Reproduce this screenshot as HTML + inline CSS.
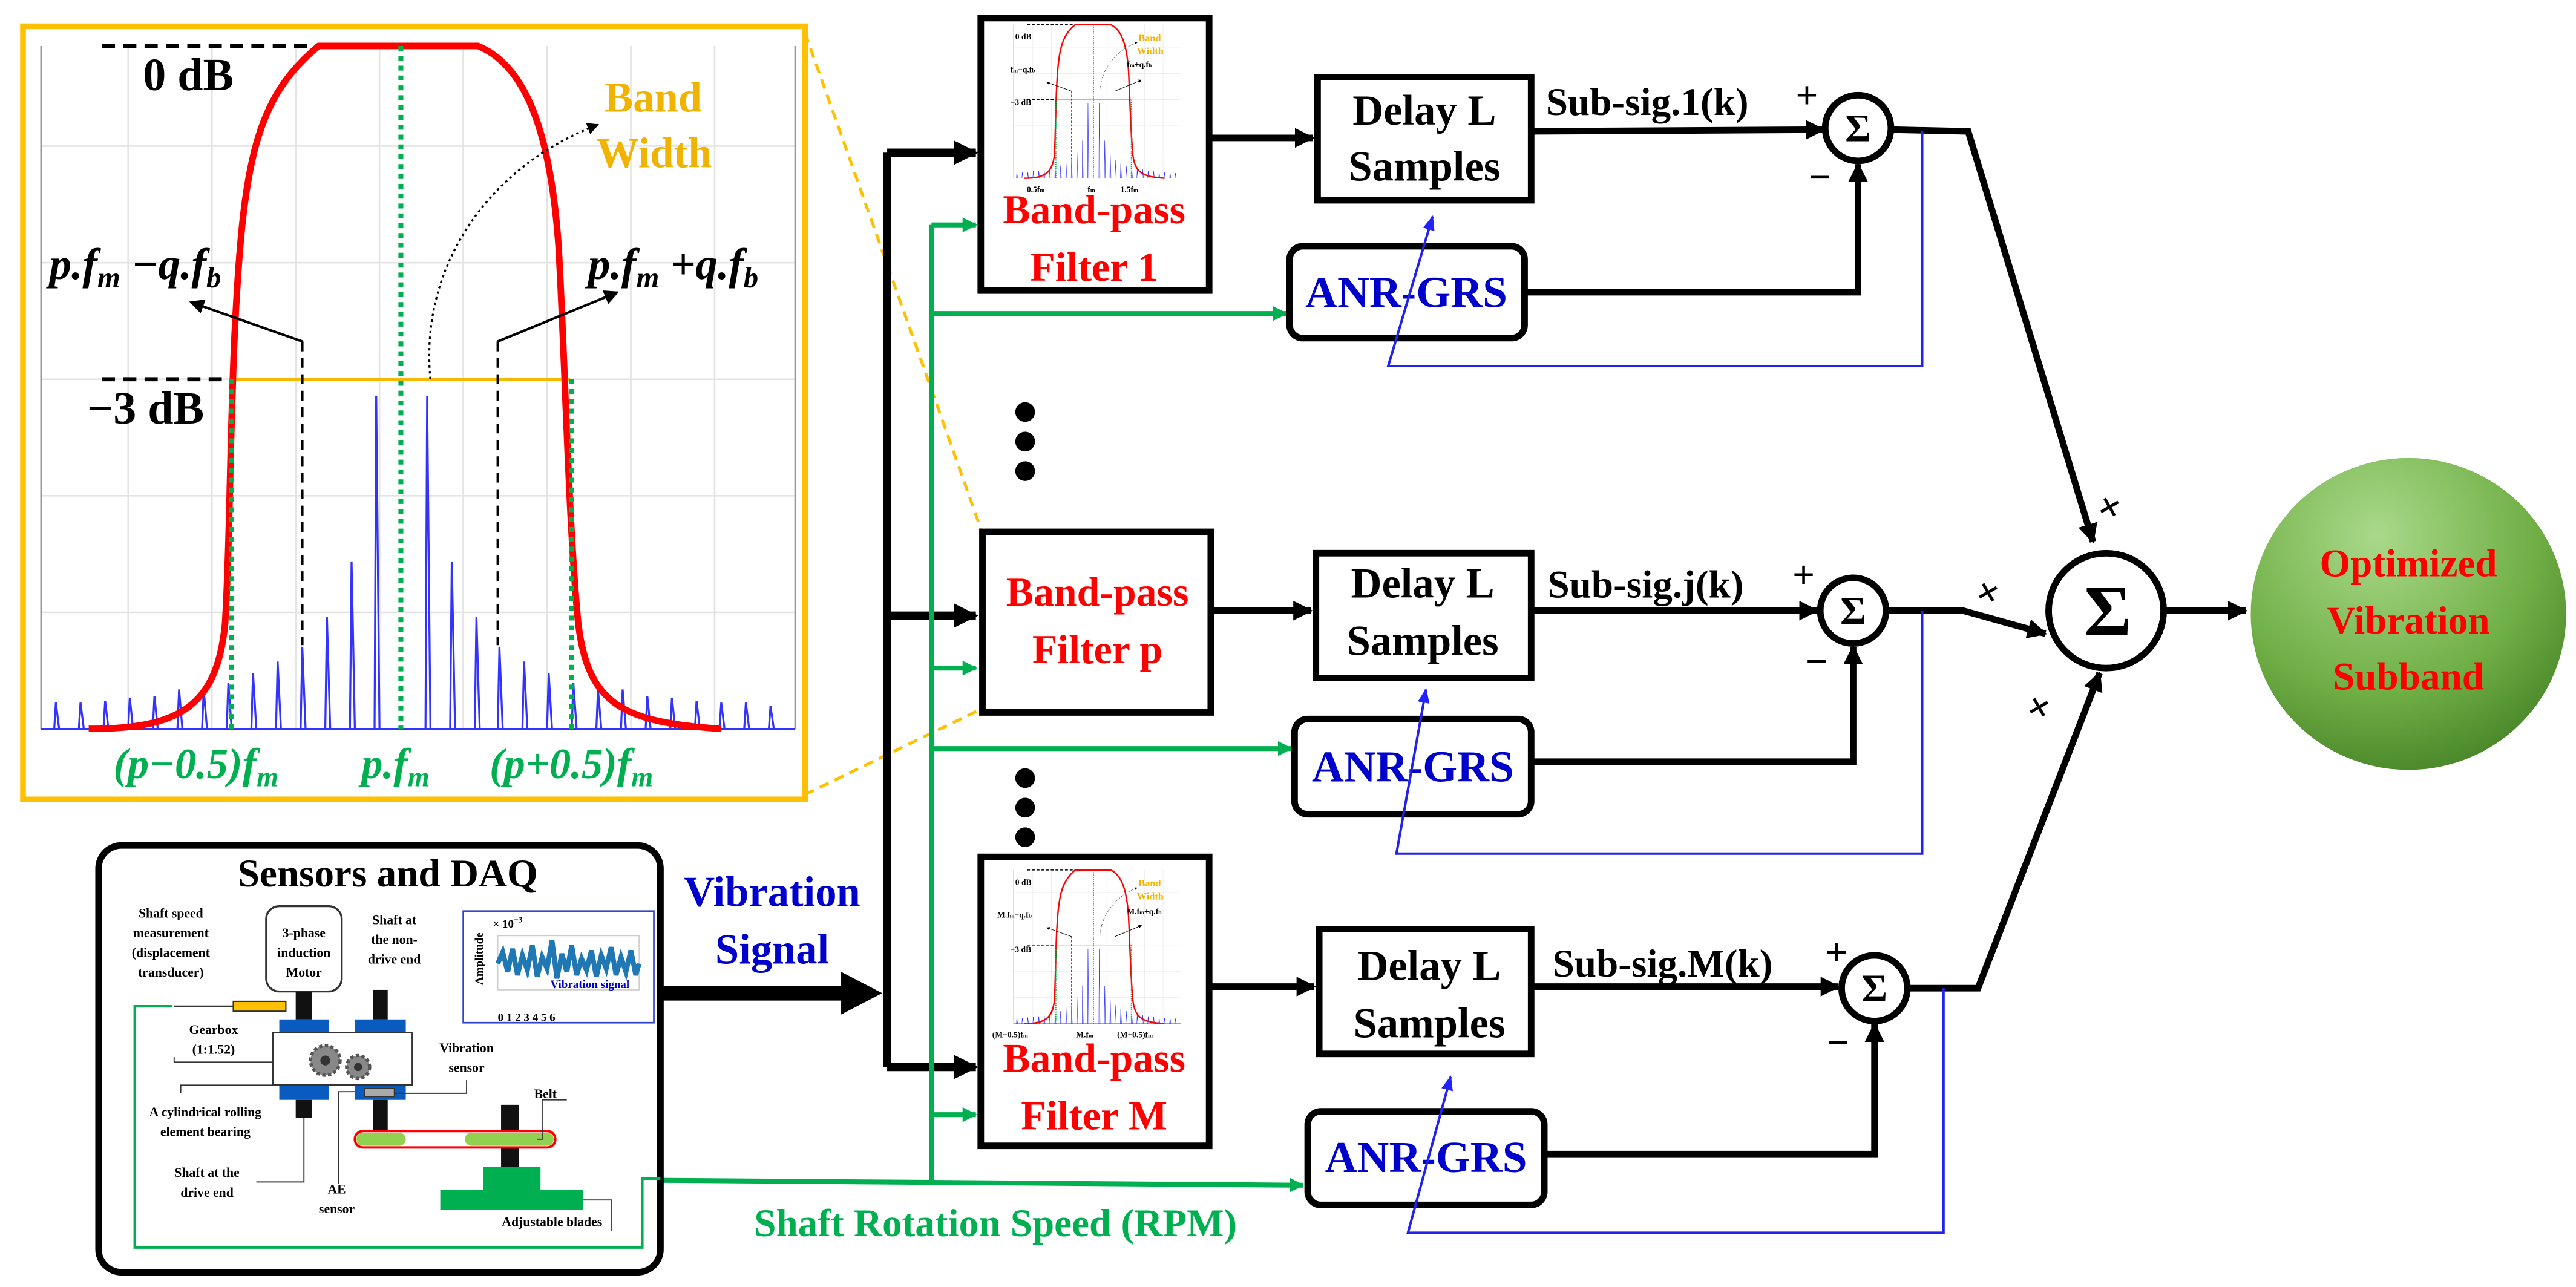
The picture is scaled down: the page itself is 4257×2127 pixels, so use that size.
<!DOCTYPE html>
<html><head><meta charset="utf-8"><style>
html,body{margin:0;padding:0;background:#fff;}
svg{display:block;}
text{font-family:"Liberation Serif",serif;font-weight:bold;}
</style></head><body>
<svg width="4257" height="2127" viewBox="0 0 1568 784" preserveAspectRatio="none" xmlns="http://www.w3.org/2000/svg">
<defs>
<marker id="ab" viewBox="0 0 10 10" refX="9" refY="5" markerWidth="3" markerHeight="3" orient="auto"><path d="M0,0L10,5L0,10z" fill="#000"/></marker>
<marker id="ag" viewBox="0 0 10 10" refX="9" refY="5" markerWidth="3" markerHeight="3" orient="auto"><path d="M0,0L10,5L0,10z" fill="#00b050"/></marker>
<marker id="as" viewBox="0 0 10 10" refX="9" refY="5" markerWidth="6" markerHeight="6" orient="auto"><path d="M0,0L10,5L0,10z" fill="#000"/></marker>
<marker id="al" viewBox="0 0 10 10" refX="9" refY="5" markerWidth="6" markerHeight="6" orient="auto"><path d="M0,1L10,5L0,9z" fill="#22f"/></marker>
<radialGradient id="eg" cx="0.4" cy="0.25" r="0.85"><stop offset="0" stop-color="#a9d98a"/><stop offset="0.6" stop-color="#6fae45"/><stop offset="1" stop-color="#3f7d22"/></radialGradient>
<g id="plot">
 <g stroke="#e4e4e4" stroke-width="1">
  <line x1="25" y1="89" x2="484" y2="89"/><line x1="25" y1="160" x2="484" y2="160"/><line x1="25" y1="302" x2="484" y2="302"/><line x1="25" y1="373" x2="484" y2="373"/><line x1="25" y1="231" x2="484" y2="231"/>
  <line x1="78" y1="28" x2="78" y2="444"/><line x1="129" y1="28" x2="129" y2="444"/><line x1="180" y1="28" x2="180" y2="444"/><line x1="231" y1="28" x2="231" y2="444"/><line x1="282" y1="28" x2="282" y2="444"/><line x1="333" y1="28" x2="333" y2="444"/><line x1="384" y1="28" x2="384" y2="444"/><line x1="435" y1="28" x2="435" y2="444"/>
 </g>
 <line x1="25" y1="28" x2="25" y2="444" stroke="#999" stroke-width="1"/>
 <line x1="484" y1="28" x2="484" y2="444" stroke="#999" stroke-width="1"/>
 <path stroke="#33f" stroke-width="1.2" fill="none" d="M25,444H484 M33,444L34,428L36,444 M48,444L49,428L51,444 M63,444L64,427L66,444 M78,444L79,425L81,444 M93,444L94,424L96,444 M108,444L109,420L111,444 M123,444L124,420L126,444 M138,444L139,416L141,444 M153,444L154,410L156,444 M168,444L169,403L171,444 M183,444L184,394L186,444 M198,444L199,376L201,444 M213,444L214,342L216,444 M228,444L229,241L231,444 M259,444L260,241L262,444 M274,444L275,342L277,444 M289,444L290,376L292,444 M303,444L304,394L306,444 M318,444L319,403L321,444 M333,444L334,410L336,444 M348,444L349,416L351,444 M363,444L364,420L366,444 M378,444L379,420L381,444 M393,444L394,424L396,444 M408,444L409,425L411,444 M423,444L424,427L426,444 M438,444L439,428L441,444 M453,444L454,428L456,444 M468,444L469,430L471,444"/>
 <line x1="62" y1="28" x2="194" y2="28" stroke="#000" stroke-width="2.5" stroke-dasharray="8,5"/>
 <line x1="62" y1="231" x2="141" y2="231" stroke="#000" stroke-width="2.5" stroke-dasharray="8,5"/>
 <line x1="141" y1="231" x2="347" y2="231" stroke="#f5b800" stroke-width="2"/>
 <path d="M54,444 C110,444 132,430 137,380 C140,330 140,260 143,200 C148,100 155,60 194,28 L291,28 C320,40 335,80 340,150 C344,220 346,320 352,380 C358,430 380,440 439,444" stroke="#f00" stroke-width="4" fill="none"/>
 <g stroke="#00b050" stroke-width="3" stroke-dasharray="3,3">
  <line x1="141" y1="231" x2="141" y2="444"/><line x1="244" y1="28" x2="244" y2="444"/><line x1="348" y1="231" x2="348" y2="444"/>
 </g>
 <g stroke="#000" stroke-width="1.5" stroke-dasharray="6,4" fill="none">
  <line x1="184" y1="208" x2="184" y2="393"/><line x1="303" y1="208" x2="303" y2="393"/>
 </g>
 <line x1="184" y1="208" x2="116" y2="184" stroke="#000" stroke-width="1.5" marker-end="url(#as)"/>
 <line x1="303" y1="208" x2="376" y2="178" stroke="#000" stroke-width="1.5" marker-end="url(#as)"/>
 <path d="M262,231 C255,160 300,100 364,76" stroke="#000" stroke-width="1.2" stroke-dasharray="1.5,2" fill="none" marker-end="url(#as)"/>
</g>
</defs>

<rect x="14" y="16" width="476" height="471" fill="#fff" stroke="#ffc000" stroke-width="3.5"/>
<use href="#plot"/>
<text x="87" y="55" font-size="28" fill="#000">0 dB</text>
<text x="53" y="258" font-size="28" fill="#000">−3 dB</text>
<text x="368" y="68" font-size="26" fill="#f0b400">Band</text>
<text x="363" y="102" font-size="26" fill="#f0b400">Width</text>
<text x="30" y="170" font-size="27" font-style="italic" fill="#000">p.f<tspan font-size="18" dy="5">m</tspan><tspan dy="-5"> −q.f</tspan><tspan font-size="18" dy="5">b</tspan></text>
<text x="358" y="170" font-size="27" font-style="italic" fill="#000">p.f<tspan font-size="18" dy="5">m</tspan><tspan dy="-5"> +q.f</tspan><tspan font-size="18" dy="5">b</tspan></text>
<text x="69" y="474" font-size="26" font-style="italic" fill="#00b050">(p−0.5)f<tspan font-size="17" dy="5">m</tspan></text>
<text x="220" y="474" font-size="26" font-style="italic" fill="#00b050">p.f<tspan font-size="17" dy="5">m</tspan></text>
<text x="298" y="474" font-size="26" font-style="italic" fill="#00b050">(p+0.5)f<tspan font-size="17" dy="5">m</tspan></text>
<g stroke="#ffc000" stroke-width="1.8" stroke-dasharray="6,4">
 <line x1="490" y1="20" x2="597" y2="322"/><line x1="490" y1="484" x2="597" y2="432"/>
</g>

<line x1="540" y1="93" x2="540" y2="650" stroke="#000" stroke-width="5"/>
<line x1="540" y1="93" x2="594" y2="93" stroke="#000" stroke-width="5" marker-end="url(#ab)"/>
<line x1="540" y1="375" x2="594" y2="375" stroke="#000" stroke-width="5" marker-end="url(#ab)"/>
<line x1="540" y1="650" x2="594" y2="650" stroke="#000" stroke-width="5" marker-end="url(#ab)"/>
<line x1="567" y1="137" x2="567" y2="720" stroke="#00b050" stroke-width="3"/>
<g stroke="#00b050" stroke-width="3" marker-end="url(#ag)">
 <line x1="567" y1="137" x2="594" y2="137"/><line x1="567" y1="407" x2="594" y2="407"/><line x1="567" y1="679" x2="594" y2="679"/>
 <line x1="567" y1="191" x2="783" y2="191"/><line x1="567" y1="456" x2="786" y2="456"/>
 <line x1="400" y1="719" x2="793" y2="722"/>
</g>

<rect x="597" y="11" width="139" height="166" fill="#fff" stroke="#000" stroke-width="4"/>
<use href="#plot" transform="translate(611.4,8.7) scale(0.222,0.225)"/>
<g font-size="5" fill="#000"><text x="618" y="24">0 dB</text><text x="615" y="44">f<tspan font-size="3.5">m</tspan>−q.f<tspan font-size="3.5">b</tspan></text><text x="615" y="64">−3 dB</text><text x="686" y="41">f<tspan font-size="3.5">m</tspan>+q.f<tspan font-size="3.5">b</tspan></text><text x="625" y="117">0.5f<tspan font-size="3.5">m</tspan></text><text x="662" y="117">f<tspan font-size="3.5">m</tspan></text><text x="682" y="117">1.5f<tspan font-size="3.5">m</tspan></text></g>
<g font-size="6" fill="#f0b400"><text x="693" y="25">Band</text><text x="692" y="33">Width</text></g>
<text x="666" y="136" font-size="25" fill="#f00" text-anchor="middle">Band-pass</text>
<text x="666" y="171" font-size="25" fill="#f00" text-anchor="middle">Filter 1</text>

<rect x="598" y="324" width="139" height="110" fill="#fff" stroke="#000" stroke-width="4"/>
<text x="668" y="369" font-size="25" fill="#f00" text-anchor="middle">Band-pass</text>
<text x="668" y="404" font-size="25" fill="#f00" text-anchor="middle">Filter p</text>

<rect x="597" y="522" width="139" height="176" fill="#fff" stroke="#000" stroke-width="4"/>
<use href="#plot" transform="translate(611.4,523.7) scale(0.222,0.225)"/>
<g font-size="5" fill="#000"><text x="618" y="539">0 dB</text><text x="607" y="559">M.f<tspan font-size="3.5">m</tspan>−q.f<tspan font-size="3.5">b</tspan></text><text x="615" y="580">−3 dB</text><text x="686" y="557">M.f<tspan font-size="3.5">m</tspan>+q.f<tspan font-size="3.5">b</tspan></text><text x="604" y="632">(M−0.5)f<tspan font-size="3.5">m</tspan></text><text x="655" y="632">M.f<tspan font-size="3.5">m</tspan></text><text x="680" y="632">(M+0.5)f<tspan font-size="3.5">m</tspan></text></g>
<g font-size="6" fill="#f0b400"><text x="693" y="540">Band</text><text x="692" y="548">Width</text></g>
<text x="666" y="653" font-size="25" fill="#f00" text-anchor="middle">Band-pass</text>
<text x="666" y="688" font-size="25" fill="#f00" text-anchor="middle">Filter M</text>

<g fill="#000"><circle cx="624" cy="251" r="6"/><circle cx="624" cy="269" r="6"/><circle cx="624" cy="287" r="6"/><circle cx="624" cy="474" r="6"/><circle cx="624" cy="492" r="6"/><circle cx="624" cy="510" r="6"/></g>

<g stroke="#000" stroke-width="4" marker-end="url(#ab)">
 <line x1="737" y1="84" x2="799" y2="84"/><line x1="737" y1="372" x2="798" y2="372"/><line x1="737" y1="601" x2="800" y2="601"/>
</g>

<g fill="#fff" stroke="#000" stroke-width="4">
 <rect x="802" y="47" width="130" height="75"/><rect x="801" y="337" width="131" height="76"/><rect x="803" y="566" width="129" height="76"/>
</g>
<g font-size="26" fill="#000" text-anchor="middle">
 <text x="867" y="76">Delay L</text><text x="867" y="110">Samples</text>
 <text x="866" y="364">Delay L</text><text x="866" y="399">Samples</text>
 <text x="870" y="597">Delay L</text><text x="870" y="632">Samples</text>
</g>

<g fill="#fff" stroke="#000" stroke-width="4">
 <rect x="785" y="150" width="143" height="56" rx="8"/><rect x="788" y="438" width="144" height="58" rx="8"/><rect x="796" y="677" width="144" height="57" rx="8"/>
</g>
<g font-size="27" fill="#0000cc" text-anchor="middle">
 <text x="856" y="187">ANR-GRS</text><text x="860" y="476">ANR-GRS</text><text x="868" y="714">ANR-GRS</text>
</g>

<g stroke="#000" stroke-width="4" fill="none">
 <line x1="932" y1="80" x2="1110" y2="79" marker-end="url(#ab)"/>
 <line x1="932" y1="372" x2="1106" y2="372" marker-end="url(#ab)"/>
 <line x1="932" y1="601" x2="1119" y2="601" marker-end="url(#ab)"/>
 <polyline points="928,178 1131,178 1131,100" marker-end="url(#ab)"/>
 <polyline points="932,464 1128,464 1128,394" marker-end="url(#ab)"/>
 <polyline points="940,703 1141,703 1141,624" marker-end="url(#ab)"/>
 <polyline points="1152,79 1198,80 1274,330" marker-end="url(#ab)"/>
 <polyline points="1148,372 1195,372 1245,386" marker-end="url(#ab)"/>
 <polyline points="1161,602 1204,602 1278,410" marker-end="url(#ab)"/>
 <line x1="1317" y1="372" x2="1367" y2="372" marker-end="url(#ab)"/>
</g>
<g font-size="24" fill="#000">
 <text x="941" y="70">Sub-sig.1(k)</text><text x="942" y="364">Sub-sig.j(k)</text><text x="945" y="595">Sub-sig.M(k)</text>
</g>
<g font-size="24" fill="#000" font-weight="normal">
 <text x="1093" y="66">+</text><text x="1091" y="358">+</text><text x="1111" y="588">+</text>
 <text x="1101" y="116">−</text><text x="1099" y="411">−</text><text x="1112" y="643">−</text>
</g>
<g font-size="26" fill="#000" font-weight="normal">
 <text transform="translate(1282,320) rotate(-30)">+</text>
 <text transform="translate(1208,372) rotate(-30)">+</text>
 <text transform="translate(1239,442) rotate(-30)">+</text>
</g>

<g fill="#fff" stroke="#000" stroke-width="4">
 <circle cx="1131" cy="78" r="20"/><circle cx="1128" cy="372" r="20"/><circle cx="1141" cy="602" r="20"/><circle cx="1282" cy="372" r="35"/>
</g>
<g fill="#000" text-anchor="middle" font-weight="normal">
 <text x="1131" y="86" font-size="24">Σ</text><text x="1128" y="380" font-size="24">Σ</text><text x="1141" y="610" font-size="24">Σ</text><text x="1283" y="387" font-size="44">Σ</text>
</g>

<g stroke="#2222ee" stroke-width="1.5" fill="none">
 <polyline points="1170,80 1170,223 845,223 872,132" marker-end="url(#al)"/>
 <polyline points="1170,372 1170,520 850,520 868,420" marker-end="url(#al)"/>
 <polyline points="1183,602 1183,751 857,751 883,656" marker-end="url(#al)"/>
</g>

<ellipse cx="1466" cy="374" rx="96" ry="95" fill="url(#eg)"/>
<g font-size="24" fill="#f00" text-anchor="middle">
 <text x="1466" y="351">Optimized</text><text x="1466" y="386">Vibration</text><text x="1466" y="420">Subband</text>
</g>

<text x="470" y="552" font-size="26" fill="#0000cc" text-anchor="middle">Vibration</text>
<text x="470" y="587" font-size="26" fill="#0000cc" text-anchor="middle">Signal</text>
<line x1="402" y1="605" x2="515" y2="605" stroke="#000" stroke-width="9"/>
<path d="M512,592 L537,605 L512,618z" fill="#000"/>
<text x="606" y="753" font-size="24" fill="#00b050" text-anchor="middle">Shaft Rotation Speed (RPM)</text>

<rect x="60" y="515" width="342" height="260" rx="14" fill="#fff" stroke="#000" stroke-width="4"/>
<text x="236" y="540" font-size="24" fill="#000" text-anchor="middle">Sensors and DAQ</text>
<polyline points="105,613 82,613 82,760 391,760 391,718 402,718" fill="none" stroke="#00b050" stroke-width="1.5"/>
<rect x="162" y="552" width="46" height="52" rx="8" fill="#fff" stroke="#333" stroke-width="1.2"/>
<g font-size="8" fill="#000" text-anchor="middle">
 <text x="104" y="559">Shaft speed</text><text x="104" y="571">measurement</text><text x="104" y="583">(displacement</text><text x="104" y="595">transducer)</text>
 <text x="240" y="563">Shaft at</text><text x="240" y="575">the non-</text><text x="240" y="587">drive end</text>
 <text x="185" y="571">3-phase</text><text x="185" y="583">induction</text><text x="185" y="595">Motor</text>
 <text x="130" y="630">Gearbox</text><text x="130" y="642">(1:1.52)</text>
 <text x="284" y="641">Vibration</text><text x="284" y="653">sensor</text>
 <text x="125" y="680">A cylindrical rolling</text><text x="125" y="692">element bearing</text>
 <text x="126" y="717">Shaft at the</text><text x="126" y="729">drive end</text>
 <text x="205" y="727">AE</text><text x="205" y="739">sensor</text>
 <text x="332" y="669">Belt</text>
 <text x="336" y="747">Adjustable blades</text>
</g>
<line x1="106" y1="613" x2="142" y2="613" stroke="#333" stroke-width="1"/>
<rect x="142" y="610" width="32" height="6" fill="#ffc000" stroke="#333" stroke-width="0.8"/>
<g fill="#111"><rect x="180" y="604" width="10" height="17"/><rect x="227" y="603" width="9" height="18"/><rect x="180" y="670" width="10" height="11"/><rect x="227" y="670" width="9" height="20"/><rect x="305" y="673" width="11" height="39"/></g>
<g fill="#0a5bbf"><rect x="170" y="621" width="30" height="8"/><rect x="216" y="621" width="31" height="8"/><rect x="170" y="661" width="30" height="9"/><rect x="216" y="661" width="31" height="9"/></g>
<rect x="166" y="629" width="85" height="32" fill="#fff" stroke="#333" stroke-width="1"/>
<circle cx="198" cy="646" r="9" fill="#888" stroke="#555" stroke-width="2" stroke-dasharray="2,1.5"/><circle cx="198" cy="646" r="3" fill="#333"/>
<circle cx="218" cy="650" r="7" fill="#888" stroke="#555" stroke-width="2" stroke-dasharray="2,1.5"/><circle cx="218" cy="650" r="2.5" fill="#333"/>
<rect x="222" y="663" width="18" height="5" fill="#aaa" stroke="#333" stroke-width="0.6"/>
<rect x="216" y="689" width="122" height="10" rx="5" fill="#fff" stroke="#f00" stroke-width="1.5"/>
<rect x="217" y="690" width="30" height="8" rx="4" fill="#92d050"/><rect x="283" y="690" width="54" height="8" rx="4" fill="#92d050"/>
<rect x="294" y="711" width="35" height="14" fill="#00b050"/><rect x="268" y="725" width="87" height="12" fill="#00b050"/>
<g stroke="#333" stroke-width="0.7" fill="none">
 <polyline points="106,644 106,647 166,647"/><polyline points="110,666 110,661 170,661"/><polyline points="156,720 185,720 185,681"/>
 <polyline points="206,721 206,665 216,665"/><polyline points="240,666 284,666 284,658"/><polyline points="327,694 330,694 330,670 345,670"/>
 <polyline points="355,731 372,731 372,750"/>
</g>
<rect x="282" y="555" width="116" height="68" fill="#fff" stroke="#3344cc" stroke-width="1"/>
<rect x="303" y="570" width="86" height="33" fill="#fff" stroke="#ccc" stroke-width="0.6"/>
<path d="M303,587 L306,580 L309,592 L312,578 L315,594 L318,582 L321,591 L324,576 L327,595 L330,583 L333,590 L336,573 L339,596 L342,581 L345,592 L348,576 L351,594 L354,584 L357,591 L360,579 L363,595 L366,582 L369,590 L372,577 L375,594 L378,583 L381,592 L384,579 L387,594 L389,587" stroke="#1f77b4" stroke-width="3" fill="none"/>
<g font-size="7" fill="#000"><text x="300" y="565">× 10<tspan font-size="5" dy="-3">−3</tspan></text><text x="303" y="622">0  1  2  3  4  5  6</text></g>
<text x="294" y="600" font-size="7" fill="#000" transform="rotate(-90 294 600)">Amplitude</text>
<text x="335" y="602" font-size="7" fill="#0000cc">Vibration signal</text>
</svg>
</body></html>
